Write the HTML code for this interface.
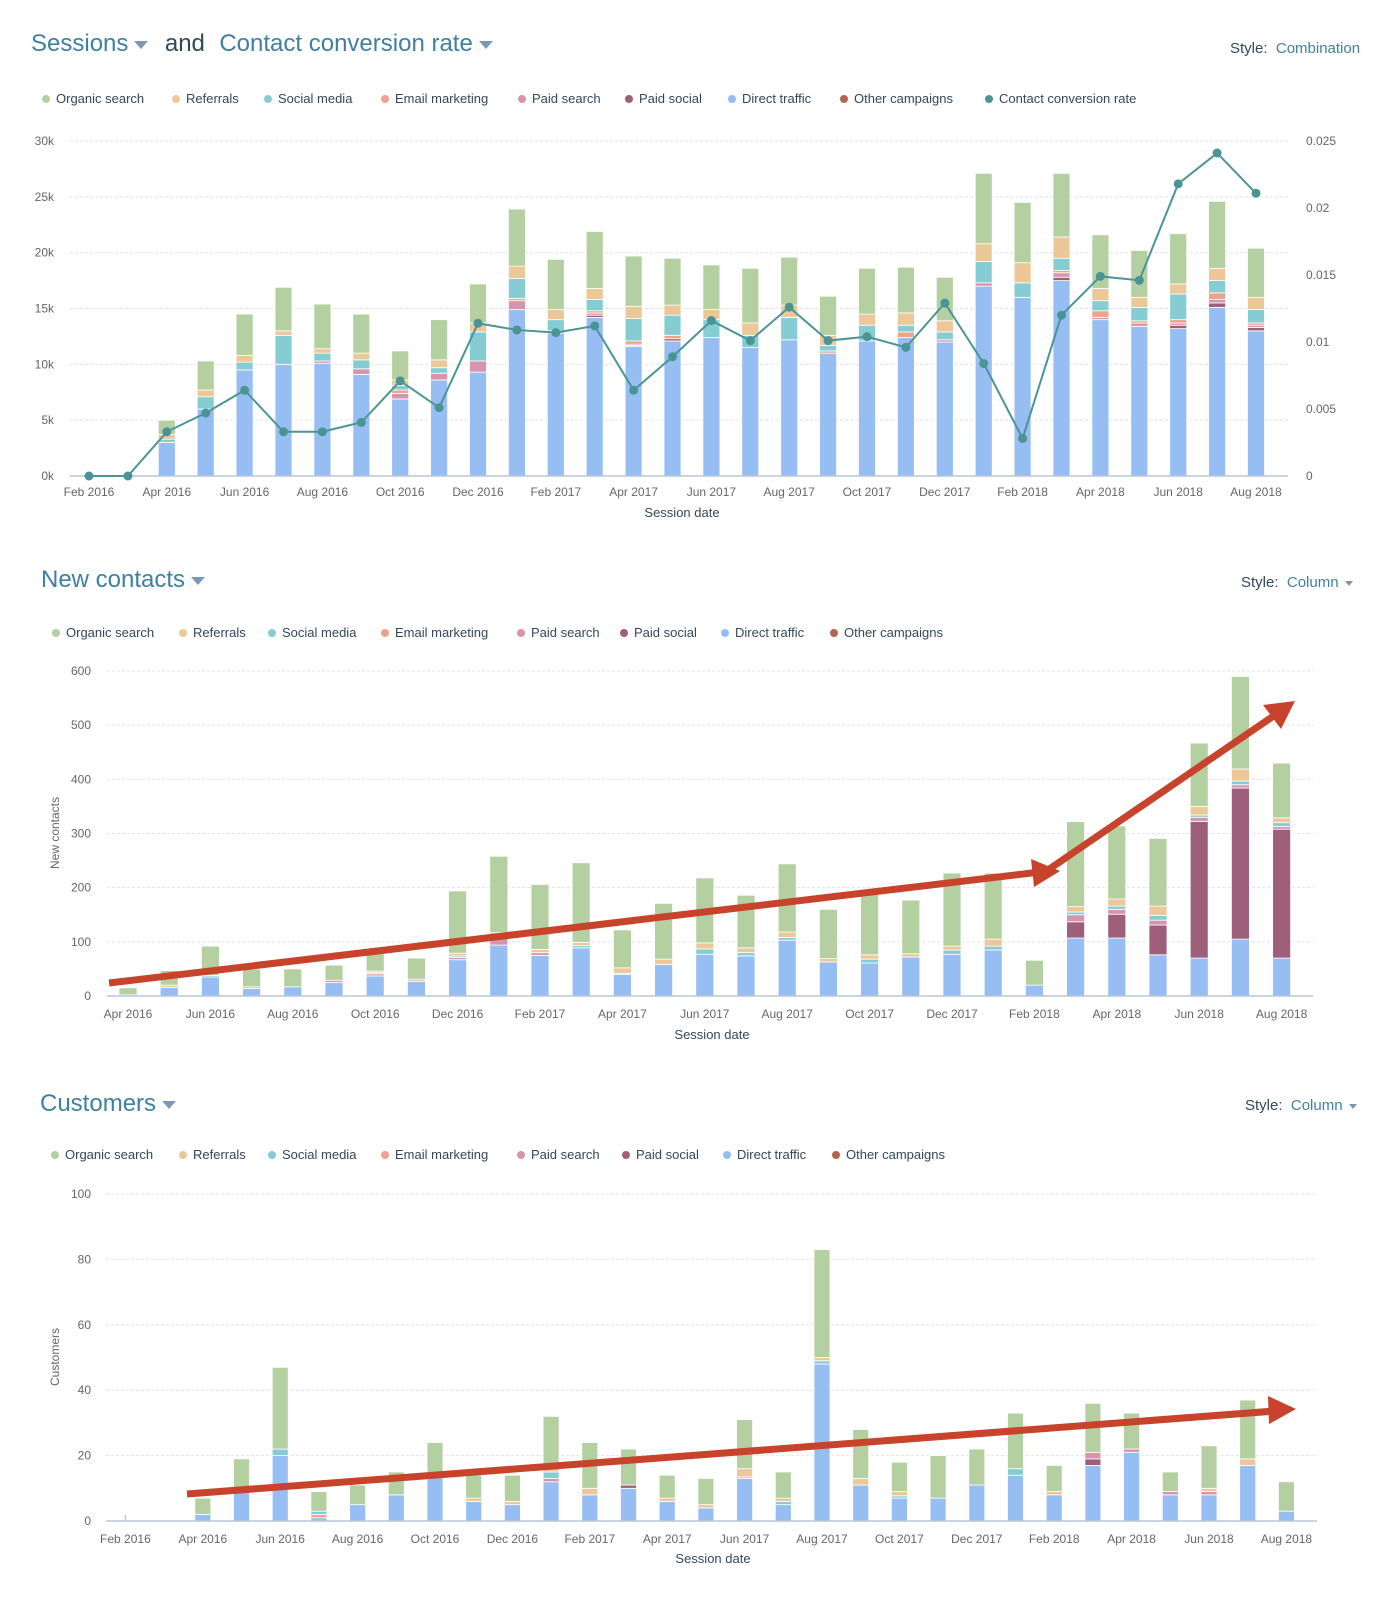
<!DOCTYPE html>
<html><head><meta charset="utf-8">
<style>
body{margin:0;background:#fff;width:1392px;height:1600px;overflow:hidden;font-family:"Liberation Sans",sans-serif;color:#33475b}
.abs{position:absolute;white-space:nowrap}
.title{font-size:24px;color:#3f80a0}
.and{font-size:24px;color:#33475b}
.caret{display:inline-block;width:0;height:0;border-left:7px solid transparent;border-right:7px solid transparent;border-top:8px solid #7c98b6;vertical-align:middle;margin-left:6px}
.scaret{display:inline-block;width:0;height:0;border-left:4px solid transparent;border-right:4px solid transparent;border-top:5px solid #7c98b6;vertical-align:middle;margin-left:6px}
.style{font-size:15px;color:#33475b}
.style span{color:#3f80a0}
.leg{font-size:13px;color:#33475b}
.dot{display:inline-block;width:8px;height:8px;border-radius:50%;margin-right:6px;vertical-align:0px}
svg text{font-family:"Liberation Sans",sans-serif}
</style></head><body>
<div style="position:relative;width:1392px;height:1600px">
<div class="abs" style="left:31px;top:30px">
<span class="title">Sessions<i class="caret"></i></span>
<span class="and" style="margin:0 10px 0 12px">and</span>
<span class="title">Contact conversion rate<i class="caret"></i></span></div>
<div class="abs style" style="left:1230px;top:40px">Style:&nbsp; <span>Combination</span></div>
<div id="leg1"></div>

<div class="abs" style="left:41px;top:566px"><span class="title">New contacts<i class="caret"></i></span></div>
<div class="abs style" style="left:1241px;top:574px">Style:&nbsp; <span>Column<i class="scaret"></i></span></div>
<div id="leg2"></div>

<div class="abs" style="left:40px;top:1090px"><span class="title">Customers<i class="caret"></i></span></div>
<div class="abs style" style="left:1245px;top:1097px">Style:&nbsp; <span>Column<i class="scaret"></i></span></div>
<div id="leg3"></div>

<svg id="svg" width="1392" height="1600" style="position:absolute;left:0;top:0"></svg>
</div>
<script>
// ---------- shared ----------
const seriesNames = ["Direct traffic","Other campaigns","Paid social","Paid search","Email marketing","Social media","Referrals","Organic search"];
const seriesColors = ["#96bef2","#b0654f","#9e5f7a","#d794ad","#eba38a","#86cdd3","#ecc797","#b4d0a1"];
const legendOrder = ["Organic search","Referrals","Social media","Email marketing","Paid search","Paid social","Direct traffic","Other campaigns"];

// ---------- chart 1: sessions (k) ----------
const c1Months = ["Feb 2016","Mar 2016","Apr 2016","May 2016","Jun 2016","Jul 2016","Aug 2016","Sep 2016","Oct 2016","Nov 2016","Dec 2016","Jan 2017","Feb 2017","Mar 2017","Apr 2017","May 2017","Jun 2017","Jul 2017","Aug 2017","Sep 2017","Oct 2017","Nov 2017","Dec 2017","Jan 2018","Feb 2018","Mar 2018","Apr 2018","May 2018","Jun 2018","Jul 2018","Aug 2018"];
const c1Direct =   [0,0,3,6,9.5,10,10.1,9.1,6.9,8.6,9.3,14.9,12.8,14.2,11.6,12.1,12.4,11.5,12.2,11.0,12.1,12.4,12.0,17.0,16.0,17.5,14.0,13.4,13.2,15.1,13.0];
const c1Other =    [0,0,0,0,0,0,0,0,0,0,0,0,0,0,0.1,0.2,0,0,0,0,0,0,0,0,0,0,0,0,0,0,0];
const c1PaidSoc =  [0,0,0,0,0,0,0,0,0,0,0,0,0,0.2,0.1,0,0,0,0,0,0,0,0,0,0,0.3,0,0,0.3,0.4,0.3];
const c1PaidSea =  [0,0,0,0,0,0,0.2,0.5,0.5,0.6,1.0,0.8,0.2,0.2,0,0,0,0,0,0,0,0,0.2,0.3,0,0.4,0.2,0.3,0.2,0.3,0.2];
const c1Email =    [0,0,0,0,0,0,0,0,0.3,0,0,0.2,0,0.2,0.3,0.3,0,0,0,0.2,0,0.5,0,0,0,0.2,0.6,0.2,0.3,0.6,0.2];
const c1Social =   [0,0,0.3,1.1,0.7,2.6,0.7,0.8,0.4,0.5,2.6,1.8,1.0,1.0,2.0,1.8,1.6,1.1,2.0,0.5,1.4,0.6,0.7,1.9,1.3,1.1,0.9,1.2,2.3,1.1,1.2];
const c1Ref =      [0,0,0.4,0.6,0.6,0.4,0.4,0.6,0.5,0.7,0.8,1.1,0.9,1.0,1.1,0.9,0.9,1.1,1.1,0.9,1.0,1.1,1.0,1.6,1.8,1.9,1.1,0.9,0.9,1.1,1.1];
const c1Organic =  [0,0,1.3,2.6,3.7,3.9,4.0,3.5,2.6,3.6,3.5,5.1,4.5,5.1,4.5,4.2,4.0,4.9,4.3,3.5,4.1,4.1,3.9,6.3,5.4,5.7,4.8,4.2,4.5,6.0,4.4];
const c1Rate =     [0,0,0.0033,0.0047,0.0064,0.0033,0.0033,0.0040,0.0071,0.0051,0.0114,0.0109,0.0107,0.0112,0.0064,0.0089,0.0116,0.0101,0.0126,0.0101,0.0104,0.0096,0.0129,0.0084,0.0028,0.0120,0.0149,0.0146,0.0218,0.0241,0.0211];
const c1YTicks = [0,5,10,15,20,25,30];
const c1YLabels = ["0k","5k","10k","15k","20k","25k","30k"];
const c1RTicks = [0,0.005,0.01,0.015,0.02,0.025];
const c1RLabels = ["0","0.005","0.01","0.015","0.02","0.025"];

// ---------- chart 2: new contacts ----------
const c2Months = ["Apr 2016","May 2016","Jun 2016","Jul 2016","Aug 2016","Sep 2016","Oct 2016","Nov 2016","Dec 2016","Jan 2017","Feb 2017","Mar 2017","Apr 2017","May 2017","Jun 2017","Jul 2017","Aug 2017","Sep 2017","Oct 2017","Nov 2017","Dec 2017","Jan 2018","Feb 2018","Mar 2018","Apr 2018","May 2018","Jun 2018","Jul 2018","Aug 2018"];
const c2Direct =  [2,16,35,14,17,25,37,27,67,94,75,89,40,58,77,74,103,63,61,72,77,85,20,107,107,76,70,105,70];
const c2Other =   [0,0,0,0,0,0,0,0,0,0,0,0,0,0,0,0,0,0,0,0,0,0,0,0,0,0,0,0,0];
const c2PaidSoc = [0,0,0,0,0,0,0,0,0,0,0,0,0,0,0,0,0,0,0,0,0,0,0,30,44,55,252,279,238];
const c2PaidSea = [0,0,0,0,0,4,4,0,4,12,5,0,0,0,0,0,0,0,0,0,0,0,0,13,9,9,8,6,5];
const c2Email =   [0,0,0,0,0,0,2,0,0,0,0,0,0,0,0,0,0,0,0,0,0,0,0,0,0,0,0,0,0];
const c2Social =  [0,0,3,3,0,0,0,0,3,3,0,4,2,0,10,6,5,0,7,0,8,7,0,5,6,9,4,7,7];
const c2Ref =     [0,4,0,0,0,0,3,4,5,8,6,6,10,10,11,9,10,6,8,6,7,13,0,10,13,17,16,22,9];
const c2Organic = [13,27,54,33,33,28,34,39,115,141,120,147,70,103,120,97,126,91,114,99,135,122,46,157,135,125,117,171,101];
const c2YTicks = [0,100,200,300,400,500,600];
const c2YLabels = ["0","100","200","300","400","500","600"];

// ---------- chart 3: customers ----------
const c3Months = c1Months;
const c3Direct =  [0,0,2,9,20,1,5,8,14,6,5,12,8,10,6,4,13,5,48,11,7,7,11,14,8,17,21,8,8,17,3];
const c3Other =   [0,0,0,0,0,0,0,0,0,0,0,0,0,0,0,0,0,0,0,0,0,0,0,0,0,0,0,0,0,0,0];
const c3PaidSoc = [0,0,0,0,0,0,0,0,0,0,0,0,0,1,0,0,0,0,0,0,0,0,0,0,0,2,0,0,0,0,0];
const c3PaidSea = [0,0,0,0,0,0,0,0,0,0,0,1,0,0,0,0,0,0,0,0,0,0,0,0,0,2,1,1,1,0,0];
const c3Email =   [0,0,0,0,0,1,0,0,0,0,0,0,0,0,0,0,0,0,0,0,0,0,0,0,0,0,0,0,0,0,0];
const c3Social =  [0,0,0,0,2,1,0,0,0,0,0,2,0,0,0,0,0.5,1,1,0,0.7,0,0,2,0,0,0,0,0,0,0];
const c3Ref =     [0,0,0,0,0,0,0,0,0,1,1,1,2,0,1,1,2.5,1,1,2,1.3,0,0,0,1,0,0,0,1,2,0];
const c3Organic = [0,0,5,10,25,6,6,7,10,7,8,16,14,11,7,8,15,8,33,15,9,13,11,17,8,15,11,6,13,18,9];
const c3YTicks = [0,20,40,60,80,100];
const c3YLabels = ["0","20","40","60","80","100"];

const NS="http://www.w3.org/2000/svg";
const svg=document.getElementById('svg');
function mk(tag,attrs,parent){const e=document.createElementNS(NS,tag);for(const k in attrs)e.setAttribute(k,attrs[k]);(parent||svg).appendChild(e);return e;}

function legend(id,left,top,positions,extra){
  const box=document.getElementById(id);
  legendOrder.forEach((n,i)=>{
    const d=document.createElement('div');d.className='abs leg';
    d.style.left=positions[i]+'px';d.style.top=top+'px';
    
    
    d.innerHTML='<i class="dot" style="background:'+seriesColors[seriesNames.indexOf(n)]+'"></i>'+n;
    box.appendChild(d);
  });
  if(extra){const d=document.createElement('div');d.className='abs leg';d.style.left=extra+'px';d.style.top=top+'px';
    
    
    d.innerHTML='<i class="dot" style="background:#4b9496"></i>Contact conversion rate';box.appendChild(d);}
}
legend('leg1',0,91,[42,172,264,381,518,625,728,840],985);
legend('leg2',0,625,[52,179,268,381,517,620,721,830]);
legend('leg3',0,1147,[51,179,268,381,517,622,723,832]);

function chart(o){
  const g=mk('g',{});
  
  
  const y=v=>o.y0-(v/o.ymax)*(o.y0-o.ytop);
  const x=i=>o.x0+i*o.dx;
  o.yTicks.forEach((t,i)=>{
    if(t>0){const l=mk('line',{x1:o.left,x2:o.right,y1:y(t),y2:y(t),stroke:'#dfe3eb','stroke-dasharray':'3,2','stroke-width':1},g);
      
      }
    const tx=mk('text',{x:o.labelX,y:y(t)+4,'text-anchor':'end','font-size':12,fill:'#666'},g);
    
    
    tx.textContent=o.yLabels[i];
  });
  const n=o.months.length;
  for(let i=0;i<n;i++){
    let acc=0;
    o.series.forEach((s,si)=>{
      const v=s[i]; if(!v) return;
      const yt=y(acc+v),yb=y(acc);acc+=v;
      const r=mk('rect',{x:x(i)-o.bw/2,y:yt,width:o.bw,height:Math.max(yb-yt,0.5),fill:seriesColors[si],stroke:'#fff','stroke-width':0.8},g);
      
      
    });
    if(i%2===0){const t=mk('text',{x:x(i),y:o.xLabelY,'text-anchor':'middle','font-size':12,fill:'#666'},g);
      
      
      t.textContent=o.months[i];}
  }
  const b=mk('line',{x1:o.left,x2:o.right,y1:o.y0,y2:o.y0,stroke:'#b8c6d8','stroke-width':1.5},g);
  
  
  const xt=mk('text',{x:o.xTitleX,y:o.xTitleY,'text-anchor':'middle','font-size':13,fill:'#33475b'},g);
  
  
  xt.textContent='Session date';
  if(o.yTitle){const yt=mk('text',{x:o.yTitleX,y:o.yTitleY,'text-anchor':'middle','font-size':12,fill:'#666',transform:'rotate(-90 '+o.yTitleX+' '+o.yTitleY+')'},g);
    
    
    yt.textContent=o.yTitle;}
  return {x,y,g};
}

const ch1=chart({name:'sessions-chart',months:c1Months,series:[c1Direct,c1Other,c1PaidSoc,c1PaidSea,c1Email,c1Social,c1Ref,c1Organic],
  ymax:30,y0:476,ytop:141,x0:89,dx:38.9,bw:17,left:70,right:1288,labelX:54,yTicks:c1YTicks,yLabels:c1YLabels,xLabelY:496,xTitleX:682,xTitleY:517});
// right axis
c1RTicks.forEach((t,i)=>{const yy=476-(t/0.025)*(476-141);
  const tx=mk('text',{x:1306,y:yy+4,'font-size':12,fill:'#666'});
  
  
  tx.textContent=c1RLabels[i];});
const ry=v=>476-(v/0.025)*(476-141);
const pts=c1Rate.map((v,i)=>ch1.x(i)+','+ry(v)).join(' ');
const pl=mk('polyline',{points:pts,fill:'none',stroke:'#4b9496','stroke-width':2});


c1Rate.forEach((v,i)=>{const c=mk('circle',{cx:ch1.x(i),cy:ry(v),r:4.5,fill:'#4b9496'});
  
  });

chart({name:'new-contacts-chart',months:c2Months,series:[c2Direct,c2Other,c2PaidSoc,c2PaidSea,c2Email,c2Social,c2Ref,c2Organic],
  ymax:600,y0:996,ytop:671,x0:128,dx:41.2,bw:18,left:107,right:1313,labelX:91,yTicks:c2YTicks,yLabels:c2YLabels,xLabelY:1018,xTitleX:712,xTitleY:1039,
  yTitle:'New contacts',yTitleX:59,yTitleY:833});

chart({name:'customers-chart',months:c3Months,series:[c3Direct,c3Other,c3PaidSoc,c3PaidSea,c3Email,c3Social,c3Ref,c3Organic],
  ymax:100,y0:1521,ytop:1194,x0:125.4,dx:38.7,bw:16,left:106,right:1317,labelX:91,yTicks:c3YTicks,yLabels:c3YLabels,xLabelY:1543,xTitleX:713,xTitleY:1563,
  yTitle:'Customers',yTitleX:59,yTitleY:1357});
const tk=mk('line',{x1:125.4,x2:125.4,y1:1515,y2:1521,stroke:'#b8c6d8','stroke-width':1.5});



// annotation arrows
function arrow(name,x1,y1,x2,y2,head){
  const l=mk('line',{x1,y1,x2,y2,stroke:'#c8432b','stroke-width':7});
  
  
  const p=mk('polygon',{points:head,fill:'#c8432b'});
  
  
}
arrow('trend-arrow-1',109,983,1040,872,'1031,859 1034,887 1060,871');
arrow('trend-arrow-2',1042,874,1275,715,'1263,705 1281,729 1295,701');
arrow('trend-arrow-3',187,1494,1275,1411,'1268,1396 1269,1424 1296,1409');
</script>
</body></html>
